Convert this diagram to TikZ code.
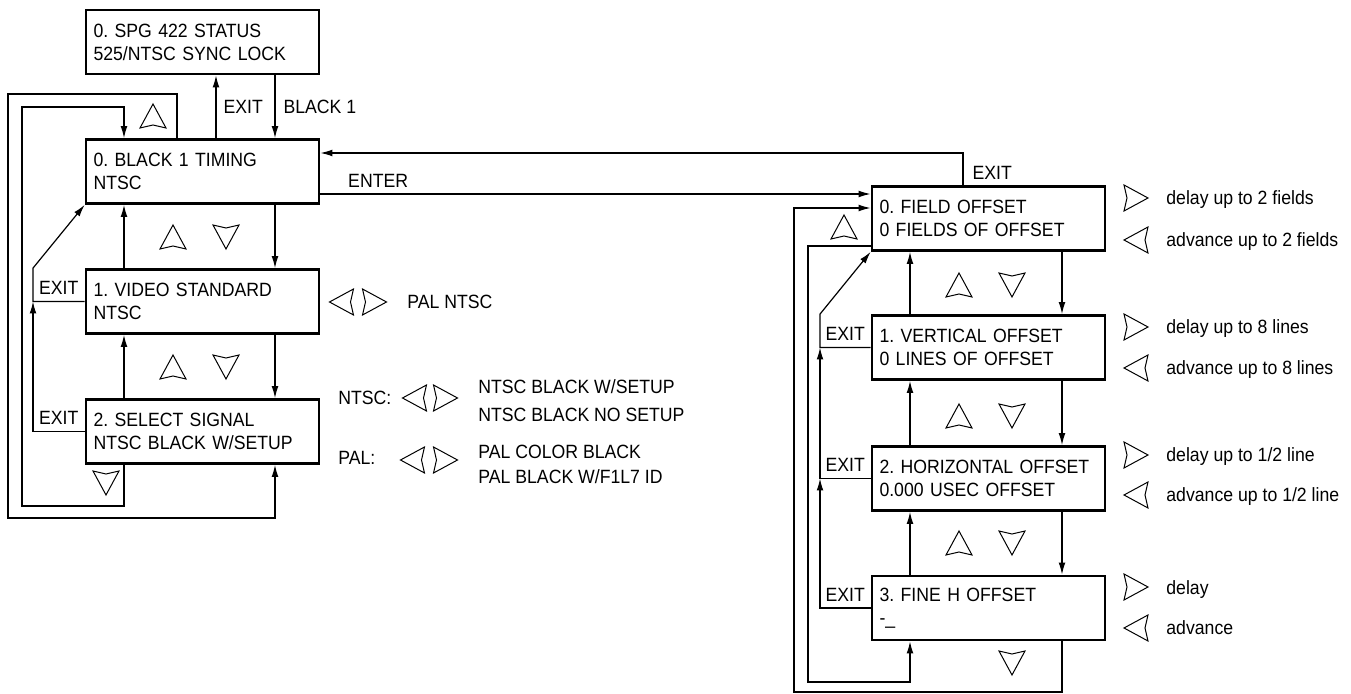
\documentclass[tikz,border=0pt]{standalone}
\usepackage{fontspec}
\setmainfont[FakeStretch=0.92]{Liberation Sans}
\usetikzlibrary{arrows.meta}

\newcommand\menufont{\frenchspacing\fontsize{9.6pt}{11.5pt}\selectfont}

\tikzset{
  menubox/.style={draw, line width=1.4pt, minimum width=116.5pt, minimum height=32pt,
    text width=109pt, inner xsep=3.75pt, align=left, font=\menufont},
  lbl/.style={font=\menufont, inner sep=0pt, text height=6.9pt, text depth=0pt},
  link/.style={line width=0.6pt, -{Latex[length=6pt,width=3.4pt]}},
  keytri/.pic={\draw[line width=0.5pt, line join=miter] (0,-12) -- (13,12) -- (0,9) -- (-13,12) -- cycle;}
}

\begin{document}
\begin{tikzpicture}[x=0.5pt, y=-0.5pt]
    \useasboundingbox (0,0) rectangle (1351,694);

    % Menu boxes, black 1 side
    \node[menubox] (top) at (202.5,42) {0. SPG 422 STATUS\\525/NTSC SYNC LOCK};
    \node[menubox] (black1) at (202.5,171.5) {0. BLACK 1 TIMING\\NTSC};
    \node[menubox] (video) at (202.5,301.5) {1. VIDEO STANDARD\\NTSC};
    \node[menubox] (select) at (202.5,431.5) {2. SELECT SIGNAL\\NTSC BLACK W/SETUP};

    % Menu boxes, offset side
    \node[menubox] (field) at (988.5,218.5) {0. FIELD OFFSET\\0 FIELDS OF OFFSET};
    \node[menubox] (vert) at (988.5,347.5) {1. VERTICAL OFFSET\\0 LINES OF OFFSET};
    \node[menubox] (horiz) at (988.5,478.5) {2. HORIZONTAL OFFSET\\0.000 USEC OFFSET};
    \node[menubox] (fine) at (988.5,608) {3. FINE H OFFSET\\-\_};

    % Columns and corners of the wires
    \coordinate (lup) at (124,0);
    \coordinate (ldn) at (275,0);
    \coordinate (lret) at (216,0);
    \coordinate (lwrap) at (177,0);
    \coordinate (lex) at (33,0);
    \coordinate (lo1) at (8,94);
    \coordinate (lo2) at (8,518);
    \coordinate (li1) at (22,107);
    \coordinate (li2) at (22,506);
    \coordinate (rup) at (910,0);
    \coordinate (rdn) at (1062,0);
    \coordinate (rret) at (963,0);
    \coordinate (rex) at (820,0);
    \coordinate (ro1) at (794,208);
    \coordinate (ro2) at (794,692);
    \coordinate (ri1) at (808,246);
    \coordinate (ri2) at (808,682);
    \coordinate (enty) at (0,194);
    \coordinate (exty) at (0,153);

    % Status box <-> black 1
    \draw[link] (black1.north -| lret) -- node[lbl, right=3.5pt] (exit0) {EXIT} (top.south -| lret);
    \draw[link] (top.south -| ldn) -- node[lbl, right=4pt] (blk) {BLACK 1} (black1.north -| ldn);

    % Up and down links
    \foreach \a/\b/\u/\d in {black1/video/lup/ldn, video/select/lup/ldn,
                             field/vert/rup/rdn, vert/horiz/rup/rdn, horiz/fine/rup/rdn} {
        \draw[link] (\b.north -| \u) -- (\a.south -| \u);
        \draw[link] (\a.south -| \d) -- (\b.north -| \d);
    }

    % Wrap round, left
    \draw[link] (black1.north -| lwrap) |- (lo1) -- (lo2) -| (select.south -| ldn);
    \draw[link] (select.south -| lup) |- (li2) -- (li1) -| (black1.north -| lup);

    % Exits, left
    \draw[link] (select.west) -- node[lbl, above=3pt] (exit2) {EXIT} (select.west -| lex) -- (video.west -| lex);
    \draw[link] (video.west) -- node[lbl, above=3pt] (exit1) {EXIT} (video.west -| lex)
        -- (video.north -| lex) -- (black1.south west);

    % Enter and exit between the two menus
    \draw[link] (black1.east |- enty) -- node[lbl, above=3pt, pos=0.105] (enter) {ENTER} (field.west |- enty);
    \draw[link] (field.north -| rret) |- node[lbl, right=4.5pt, pos=0.2] (exitf) {EXIT} (black1.east |- exty);

    % Wrap round, right
    \draw[link] (fine.south -| rdn) |- (ro2) -- (ro1) -- (field.west |- ro1);
    \draw[link] (field.west |- ri1) -- (ri1) -- (ri2) -| (fine.south -| rup);

    % Exits, right
    \draw[link] (fine.west) -- node[lbl, above=3pt] (exit5) {EXIT} (fine.west -| rex) -- (horiz.west -| rex);
    \draw[link] (horiz.west) -- node[lbl, above=3pt] (exit4) {EXIT} (horiz.west -| rex) -- (vert.west -| rex);
    \draw[link] (vert.west) -- node[lbl, above=3pt] (exit3) {EXIT} (vert.west -| rex)
        -- (vert.north -| rex) -- (field.south west);

    % Key symbols
    \foreach \px/\py in {153/116, 173/237, 173/367, 844/227, 959/285, 959/416, 959/543}
        \pic at (\px,\py) {keytri};
    \foreach \px/\py in {226/237, 226/367, 106/483, 1012/285, 1012/416, 1012/543, 1012/663}
        \pic[rotate=180] at (\px,\py) {keytri};
    \foreach \px/\py in {341.5/302, 414.5/398, 412.5/460, 1136/240, 1136/368, 1136/495, 1136/628}
        \pic[rotate=90] at (\px,\py) {keytri};
    \foreach \px/\py in {374.5/302, 445.5/398, 445.5/460, 1136/198, 1136/327, 1136/455, 1136/587}
        \pic[rotate=-90] at (\px,\py) {keytri};

    % Choices
    \node[lbl, anchor=west] (vidopt) at (407,302) {PAL NTSC};
    \node[lbl, anchor=west] (ntsclbl) at (338,398) {NTSC:};
    \node[lbl, anchor=west] (pallbl) at (338,458) {PAL:};
    \node[lbl, anchor=west] (ntsc1) at (478,387) {NTSC BLACK W/SETUP};
    \node[lbl, anchor=west] (ntsc2) at (478,415) {NTSC BLACK NO SETUP};
    \node[lbl, anchor=west] (pal1) at (478,452) {PAL COLOR BLACK};
    \node[lbl, anchor=west] (pal2) at (478,477) {PAL BLACK W/F1L7 ID};

    % Notes on the offsets
    \foreach \py/\txt in {198/{delay up to 2 fields}, 240/{advance up to 2 fields},
                          327/{delay up to 8 lines}, 368/{advance up to 8 lines},
                          455/{delay up to 1/2 line}, 495/{advance up to 1/2 line},
                          588/{delay}, 628/{advance}}
        \node[lbl, anchor=west] (note\py) at (1166,\py) {\txt};
\end{tikzpicture}
\end{document}
